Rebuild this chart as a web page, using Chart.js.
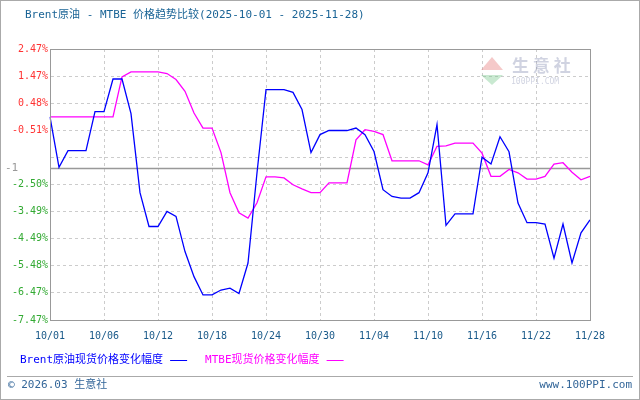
<!DOCTYPE html>
<html lang="zh-CN">
<head>
<meta charset="UTF-8">
<title>Brent原油 - MTBE 价格趋势比较</title>
<script src="https://cdn.jsdelivr.net/npm/chart.js"></script>
<style>
  html, body { margin: 0; padding: 0; background: #fff; }
  #wrap { width: 640px; height: 400px; position: relative; }
</style>
</head>
<body>
<div id="wrap"><canvas id="c" width="640" height="400"></canvas></div>
<script>
// date labels shown on the x axis (one every 6 points)
const tickDates = ['10/01', '10/06', '10/12', '10/18', '10/24', '10/30', '11/04', '11/10', '11/16', '11/22', '11/28'];
const yTickLabels = ['-7.47%', '-6.47%', '-5.48%', '-4.49%', '-3.49%', '-2.50%', '', '-0.51%', '0.48%', '1.47%', '2.47%'];

// % change series
const brent = [-0.02, -1.87, -1.26, -1.26, -1.26, 0.17, 0.17, 1.37, 1.37, 0.1,
  -2.8, -4.04, -4.04, -3.49, -3.67, -4.96, -5.88, -6.55, -6.55, -6.37,
  -6.3, -6.5, -5.38, -2.07, 0.98, 0.98, 0.98, 0.88, 0.25, -1.33,
  -0.67, -0.52, -0.52, -0.52, -0.43, -0.67, -1.29, -2.69, -2.94, -3.0,
  -3.0, -2.8, -2.07, -0.3, -4.0, -3.58, -3.58, -3.58, -1.5, -1.75,
  -0.75, -1.3, -3.18, -3.9, -3.9, -3.95, -5.2, -3.95, -5.38, -4.27, -3.8];
const mtbe = [-0.02, -0.02, -0.02, -0.02, -0.02, -0.02, -0.02, -0.02, 1.45, 1.63,
  1.63, 1.63, 1.63, 1.57, 1.35, 0.92, 0.12, -0.43, -0.43, -1.33,
  -2.8, -3.54, -3.73, -3.17, -2.22, -2.22, -2.26, -2.51, -2.66, -2.8,
  -2.8, -2.44, -2.44, -2.44, -0.86, -0.49, -0.55, -0.67, -1.63, -1.63,
  -1.63, -1.63, -1.78, -1.1, -1.08, -0.98, -0.98, -0.98, -1.35, -2.2,
  -2.2, -1.95, -2.07, -2.3, -2.3, -2.2, -1.75, -1.7, -2.05, -2.33, -2.2];
const baseLine = -1.89;   // dark reference line, labelled "-1"

const labels = brent.map((v, i) => i % 6 === 0 ? tickDates[i / 6] : '');
const mono = 'DejaVu Sans Mono';
const txtFont = '"DejaVu Sans Mono", "Noto Sans CJK SC"';

const decor = {
  id: 'decor',
  beforeDatasetsDraw(chart) {
    const { ctx, chartArea: a, scales: { y } } = chart;
    const yy = Math.round(y.getPixelForValue(baseLine)) + 0.5;
    ctx.save();
    ctx.strokeStyle = '#999';
    ctx.lineWidth = 1.5;
    ctx.beginPath(); ctx.moveTo(a.left, yy); ctx.lineTo(a.right, yy); ctx.stroke();
    ctx.fillStyle = '#999';
    ctx.font = '11px ' + mono;
    ctx.textAlign = 'left'; ctx.textBaseline = 'middle';
    ctx.fillText('-1', 5, yy);
    // watermark
    ctx.font = 'bold 17px "Noto Sans CJK SC"';
    ctx.fillStyle = 'rgba(120,130,170,0.35)';
    ctx.fillText('生 意 社', 512, 66);
    ctx.font = '8px ' + mono;
    ctx.fillText('100PPI.COM', 511, 82);
    ctx.fillStyle = 'rgba(230,120,120,0.4)';
    ctx.beginPath(); ctx.moveTo(492, 57); ctx.lineTo(481, 70); ctx.lineTo(503, 70); ctx.fill();
    ctx.fillStyle = 'rgba(120,200,140,0.4)';
    ctx.beginPath(); ctx.moveTo(481, 75); ctx.lineTo(503, 75); ctx.lineTo(492, 85); ctx.fill();
    ctx.restore();
  },
  afterDraw(chart) {
    const { ctx, chartArea: a } = chart;
    ctx.save();
    ctx.strokeStyle = '#999';
    ctx.lineWidth = 1;
    ctx.strokeRect(a.left + 0.5, a.top + 0.5, a.right - a.left, a.bottom - a.top);
    // outer frame and footer separator
    ctx.strokeStyle = '#aaa';
    ctx.strokeRect(0.5, 0.5, 639, 399);
    ctx.beginPath(); ctx.moveTo(7, 376.5); ctx.lineTo(633, 376.5); ctx.stroke();
    // title
    ctx.font = '11px ' + txtFont;
    ctx.fillStyle = '#1a6496';
    ctx.textBaseline = 'middle';
    ctx.fillText('Brent原油 - MTBE 价格趋势比较(2025-10-01 - 2025-11-28)', 25, 15);
    // legend
    ctx.font = '11px ' + txtFont;
    let x = 20;
    [['Brent原油现货价格变化幅度', '#0000ff'], ['MTBE现货价格变化幅度', '#ff00ff']].forEach(([t, col]) => {
      ctx.fillStyle = col; ctx.strokeStyle = col;
      ctx.fillText(t, x, 360);
      x += ctx.measureText(t).width + 7;
      ctx.beginPath(); ctx.moveTo(x, 360.5); ctx.lineTo(x + 17, 360.5); ctx.stroke();
      x += 35;
    });
    // footer
    ctx.fillStyle = '#336699';
    ctx.font = '11px ' + txtFont;
    ctx.fillText('© 2026.03 生意社', 8, 385);
    ctx.textAlign = 'right';
    ctx.fillText('www.100PPI.com', 632, 385);
    ctx.restore();
  }
};

new Chart(document.getElementById('c'), {
  type: 'line',
  data: {
    labels: labels,
    datasets: [
      { label: 'Brent原油现货价格变化幅度', data: brent, borderColor: '#0000ff', borderWidth: 1.3, pointRadius: 0, tension: 0 },
      { label: 'MTBE现货价格变化幅度', data: mtbe, borderColor: '#ff00ff', borderWidth: 1.3, pointRadius: 0, tension: 0 }
    ]
  },
  options: {
    responsive: false,
    animation: false,
    layout: { padding: { left: 0, top: 49, right: 50, bottom: 0 } },
    plugins: { legend: { display: false }, tooltip: { enabled: false } },
    scales: {
      x: {
        offset: false,
        afterFit: s => { s.height = 80; },
        grid: {
          color: c => c.index % 6 === 0 ? '#cccccc' : 'transparent',
          lineWidth: 1,
          tickLength: 0
        },
        border: { display: true, color: '#999', dash: [3, 3] },
        ticks: {
          autoSkip: false, maxRotation: 0, padding: 10,
          color: '#1a5a8a', font: { family: mono, size: 10 },
          callback: (v, i) => labels[i]
        }
      },
      y: {
        min: -7.47, max: 2.47,
        afterFit: s => { s.width = 50; },
        afterBuildTicks: s => {
          s.ticks = yTickLabels.map((t, i) => ({ value: -7.47 + i * 0.994 }));
        },
        grid: { color: '#cccccc', tickLength: 0 },
        border: { display: true, color: '#999', dash: [3, 3] },
        ticks: {
          padding: 2,
          font: { family: mono, size: 10 },
          color: c => c.index >= 7 ? '#ff3333' : '#33aa33',
          callback: (v, i) => yTickLabels[i]
        }
      }
    }
  },
  plugins: [decor]
});
</script>
</body>
</html>
